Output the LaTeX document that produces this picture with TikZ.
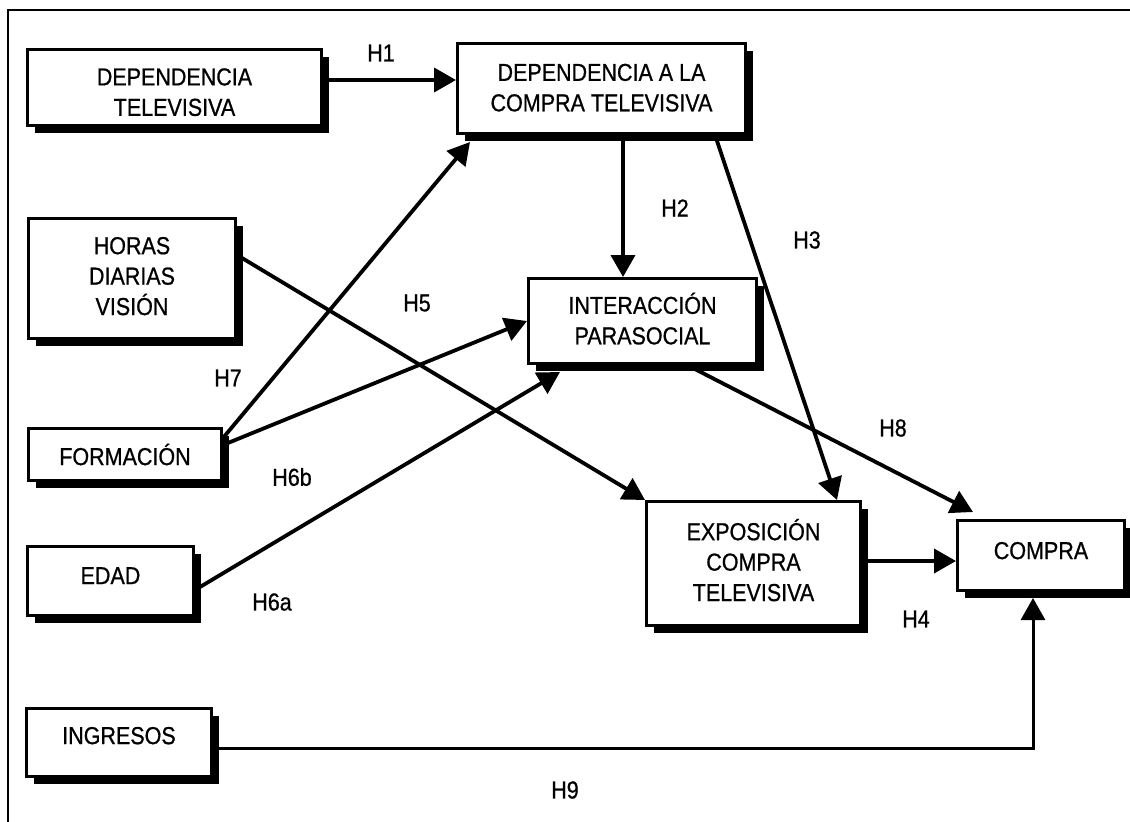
\documentclass[tikz,border=0pt]{standalone}
\usepackage{graphicx}
\usepackage{fontspec}
\setmainfont{Liberation Sans}[BoldFont=Liberation Sans, BoldFeatures={FakeBold=0.8}]
\usetikzlibrary{arrows.meta,shadows,backgrounds}

% Box text: slightly tall lettering, optional downward shift s of the text inside its box
\newcommand{\boxtext}[2][0pt]{%
  \raisebox{0pt}[\dimexpr\height+#1\relax][\dimexpr\depth-#1\relax]{%
    \scalebox{1}[1.14]{\begin{tabular}{@{}c@{}}#2\end{tabular}}}}
\newcommand{\hyp}[1]{\scalebox{1}[1.14]{#1}}

\begin{document}
\begin{tikzpicture}[x=1pt,y=-1pt,
  font=\fontsize{21.5}{26.7}\selectfont\bfseries,
  box/.style={draw=black, line width=3pt, fill=white, inner sep=0pt, align=center,
    drop shadow={shadow xshift=7pt, shadow yshift=-7pt, opacity=1, fill=black}},
  arr/.style={line width=3.8pt, -{Triangle[length=22pt,width=24pt]}},
  hlabel/.style={inner sep=0pt}]

\useasboundingbox (0,0) rectangle (1130,822);

% outer frame (left and top edges)
\draw[line width=2.5pt] (8,822) -- (8,10) -- (1130,10);

% constructs
\node[box, minimum width=294pt, minimum height=76pt]  (dt)  at (174.5,87.5) {\boxtext[7pt]{DEPENDENCIA\\TELEVISIVA}};
\node[box, minimum width=288pt, minimum height=90pt]  (dct) at (601.5,88.5) {\boxtext[1.5pt]{DEPENDENCIA A LA\\COMPRA TELEVISIVA}};
\node[box, minimum width=207pt, minimum height=120pt] (hd)  at (132,278.5)  {\boxtext{HORAS\\DIARIAS\\VISIÓN}};
\node[box, minimum width=228pt, minimum height=85pt]  (ip)  at (642.5,321)  {\boxtext[2pt]{INTERACCIÓN\\PARASOCIAL}};
\node[box, minimum width=193pt, minimum height=52pt]  (fo)  at (125,454.5)  {\boxtext[4.5pt]{FORMACIÓN}};
\node[box, minimum width=166pt, minimum height=69pt]  (ed)  at (110.5,581)  {\boxtext[-3pt]{EDAD}};
\node[box, minimum width=214pt, minimum height=124pt] (ex)  at (753.5,563.5) {\boxtext[1pt]{EXPOSICIÓN\\COMPRA\\TELEVISIVA}};
\node[box, minimum width=167pt, minimum height=70pt]  (co)  at (1041,555.5) {\boxtext[-2.5pt]{COMPRA}};
\node[box, minimum width=185pt, minimum height=68pt]  (ing) at (119,742.5)  {\boxtext[-4.5pt]{INGRESOS}};

% hypothesis labels
\node[hlabel] (h1)  at (381,53)  {\hyp{H1}};
\node[hlabel] (h2)  at (675,208) {\hyp{H2}};
\node[hlabel] (h3)  at (807,240) {\hyp{H3}};
\node[hlabel] (h4)  at (916,619) {\hyp{H4}};
\node[hlabel] (h5)  at (417,303) {\hyp{H5}};
\node[hlabel] (h6a) at (272,602) {\hyp{H6a}};
\node[hlabel] (h6b) at (292,477) {\hyp{H6b}};
\node[hlabel] (h7)  at (228,378) {\hyp{H7}};
\node[hlabel] (h8)  at (893,428) {\hyp{H8}};
\node[hlabel] (h9)  at (565,790) {\hyp{H9}};

% paths between constructs
\begin{scope}[on background layer]
  \draw[arr] ([yshift=7.5pt]dt.east) -- ([yshift=8.5pt]dct.west);
  \draw[arr] ([xshift=21.5pt]dct.south) -- ([xshift=-19.5pt]ip.north);
  \draw[arr] ([xshift=113.5pt]dct.south) -- ([xshift=83.5pt]ex.north);
  \draw[arr] ([xshift=44.5pt]ip.south) -- ([xshift=-68pt,yshift=7pt]co.north);
  \draw[arr] ([yshift=2.5pt]ex.east) -- ([yshift=-5.5pt]co.west);
  \draw[arr, line width=3pt] ([yshift=-5.5pt]ing.east) -| ([xshift=-8pt,yshift=-6pt]co.south);
  \draw[arr] ([yshift=-11pt]fo.north east) -- ([xshift=14pt,yshift=-7pt]dct.south west);
  \draw[arr] ([yshift=9.5pt]fo.east) -- (ip.west);
  \draw[arr] ([yshift=23.5pt]hd.east) -- (ex.north west);
  \draw[arr] ([xshift=5pt,yshift=-6pt]ed.east) -- ([xshift=33pt,yshift=-7pt]ip.south west);
\end{scope}
\end{tikzpicture}
\end{document}
